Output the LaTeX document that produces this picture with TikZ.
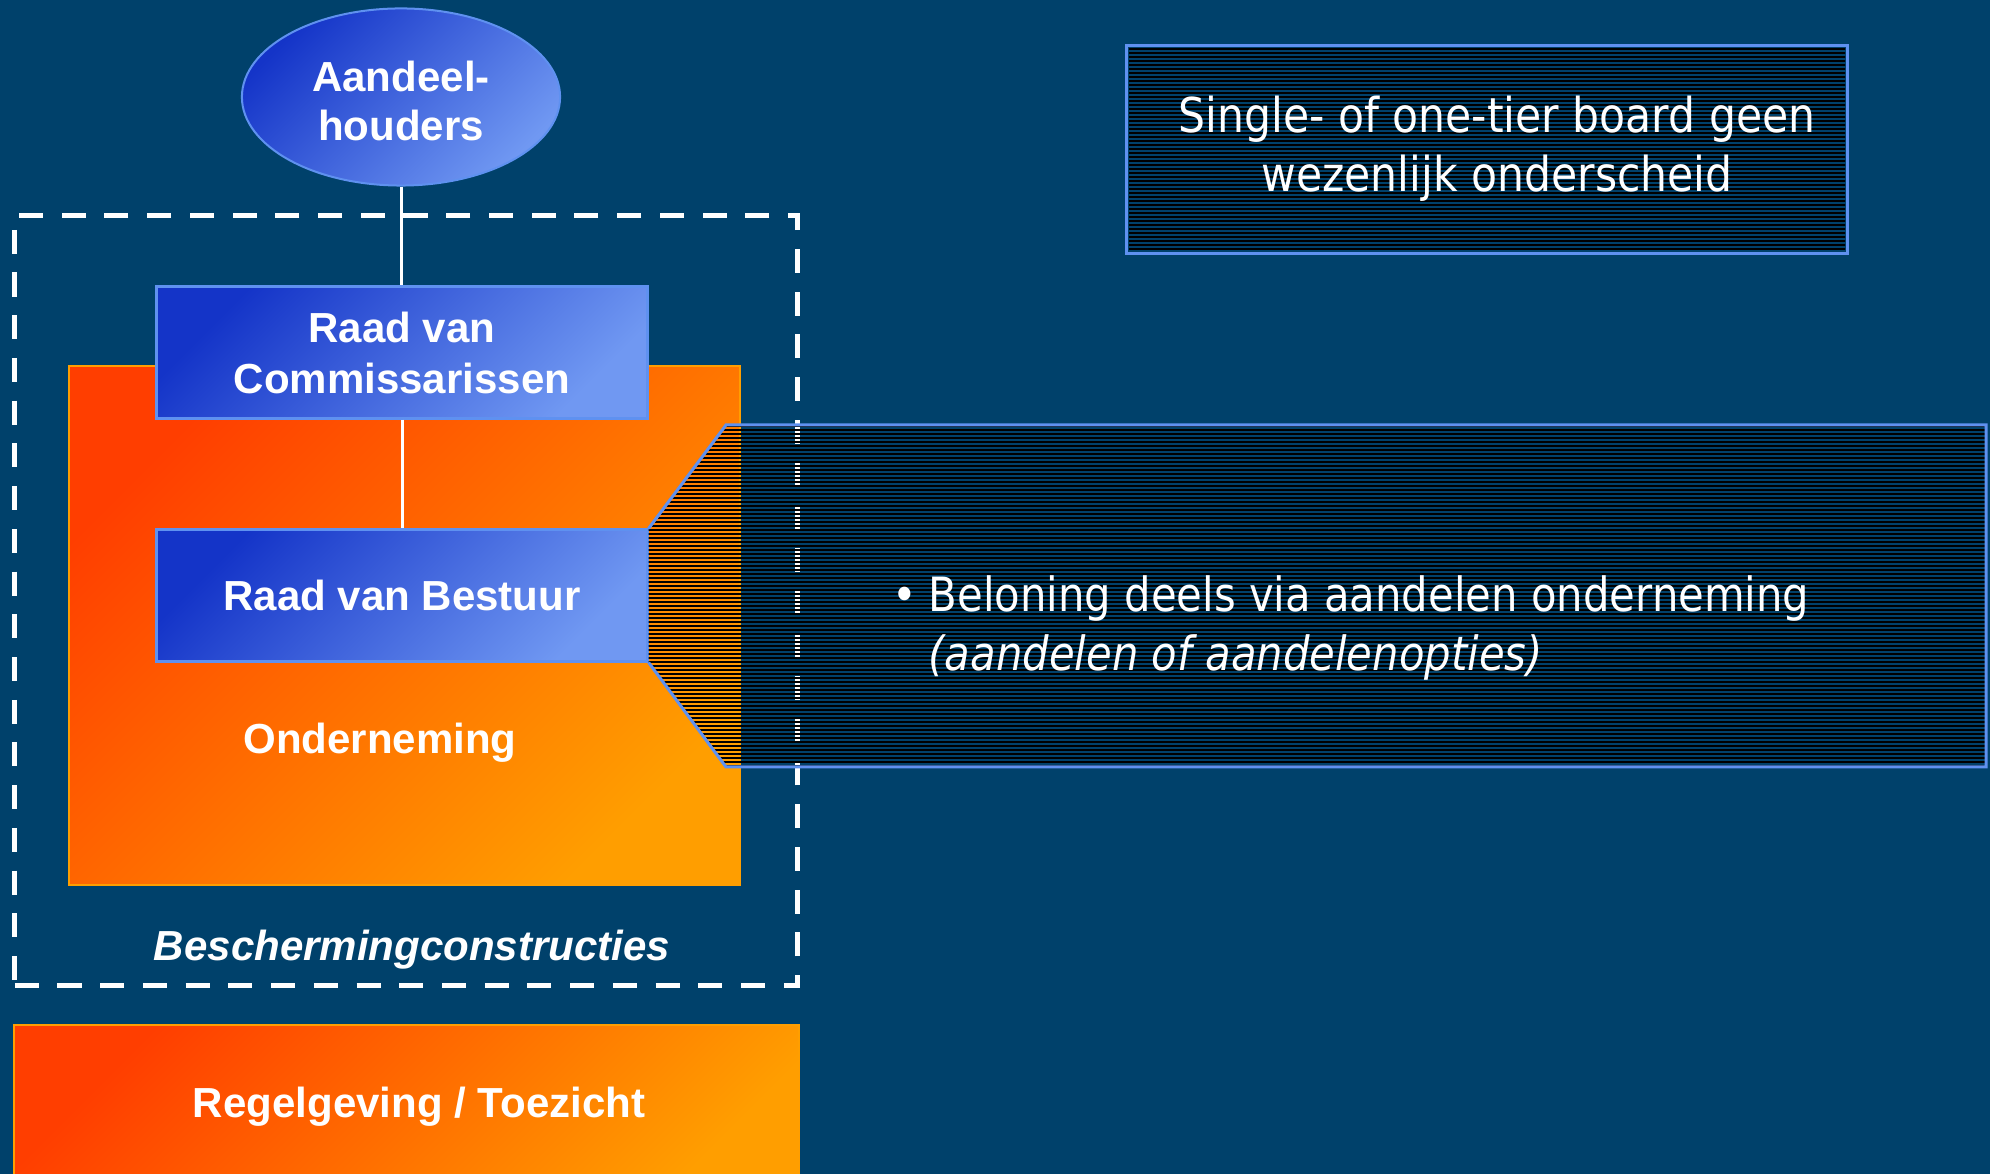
\documentclass[tikz,border=0pt]{standalone}
\usepackage{fontspec}
\setmainfont{Liberation Sans}
\newfontfamily\tah[FakeStretch=0.885]{DejaVu Sans}
\usetikzlibrary{shapes.geometric}
\definecolor{bg}{RGB}{0,65,107}
\definecolor{bluedark}{RGB}{20,52,200}
\definecolor{bluelight}{RGB}{112,152,242}
\definecolor{blueedge}{RGB}{95,145,240}
\definecolor{orA}{RGB}{255,62,0}
\definecolor{orB}{RGB}{255,158,0}
\begin{document}
\begin{tikzpicture}[x=0.01cm,y=-0.01cm,
  bluebox/.style={draw=blueedge, line width=0.03cm, shade, top color=bluedark, bottom color=bluelight, shading angle=45, inner sep=0, text=white, font=\fontsize{11.95}{14.5}\selectfont\bfseries, align=center},
  orbox/.style={draw=orB, line width=0.02cm, shade, top color=orA, bottom color=orB, shading angle=45, inner sep=0},
  lbl/.style={text=white, font=\fontsize{11.95}{14.5}\selectfont\bfseries, inner sep=0},
  tier/.style={text=white, font=\tah\fontsize{13.66}{16.8}\selectfont, inner sep=0},
  bultext/.style={text=white, font=\tah\fontsize{13.42}{16.8}\selectfont, inner sep=0},
  conn/.style={draw=white, line width=0.03cm},
  stripe/.style={draw=black, line width=0.028cm}]
\useasboundingbox (0,0) rectangle (1990,1174);
\fill[bg] (0,0) rectangle (1990,1174);

% protective constructions (dashed frame)
\node[draw=white, line width=0.05cm, dash pattern=on 0.24cm off 0.187cm, minimum width=7.82cm, minimum height=7.70cm, inner sep=0] (prot) at (406,600.5) {};

% company box
\node[orbox, minimum width=6.71cm, minimum height=5.19cm] (ond) at (404.5,625.5) {};
\node[lbl, anchor=base] (ondl) at (380,754) {Onderneming};

% shareholders
\node[bluebox, ellipse, minimum width=3.18cm, minimum height=1.77cm, line width=0.02cm] (sh) at (401,97) {\raisebox{-0.09cm}[\height][\depth]{\begin{tabular}{@{}c@{}}Aandeel-\\[-0.02cm]houders\end{tabular}}};

% boards
\node[bluebox, minimum width=4.9cm, minimum height=1.31cm] (rvc) at (402,352.5) {Raad van\\Commissarissen};
\node[bluebox, minimum width=4.9cm, minimum height=1.31cm] (rvb) at (402,595.5) {Raad van Bestuur};

% connectors
\draw[conn] (sh.south) -- (sh.south |- rvc.north);
\draw[conn] (rvc.south) -- (rvb.north);

% callout
\begin{scope}
  \clip (rvb.north east) -- (726,425) -- (1986,425) -- (1986,767) -- (726,767) -- (rvb.south east) -- cycle;
  \foreach \yy in {426,430,...,770} \draw[stripe] (640,\yy) -- (1990,\yy);
\end{scope}
\draw[draw=blueedge, line width=0.03cm, line join=miter] (rvb.north east) -- (726,425) -- (1986,425) -- (1986,767) -- (726,767) -- (rvb.south east);
\node[bultext, anchor=base west] (bul) at (892,612) {•};
\node[bultext, anchor=base west] (bel1) at (928,612) {Beloning deels via aandelen onderneming};
\node[bultext, anchor=base west] (bel2) at (928,671) {\itshape (aandelen of aandelenopties)};

% top right box
\node[draw=blueedge, line width=0.03cm, minimum width=7.2cm, minimum height=2.07cm, inner sep=0] (tierbox) at (1487,149.5) {};
\begin{scope}
  \clip (1129,48) rectangle (1845,251);
  \foreach \yy in {49,53,...,253} \draw[stripe] (1120,\yy) -- (1850,\yy);
\end{scope}
\node[tier, anchor=base, align=center] (tiert) at (1497,192) {Single- of one-tier board geen\\wezenlijk onderscheid};

% frame label
\node[lbl, anchor=base, font=\fontsize{11.95}{14.5}\selectfont\bfseries\itshape] (protl) at (412,961) {Beschermingconstructies};

% regulation
\node[orbox, minimum width=7.85cm, minimum height=1.8cm, anchor=north west] (reg) at (13,1024) {};
\node[lbl, anchor=base] (regl) at (419,1118) {Regelgeving / Toezicht};
\end{tikzpicture}
\end{document}
